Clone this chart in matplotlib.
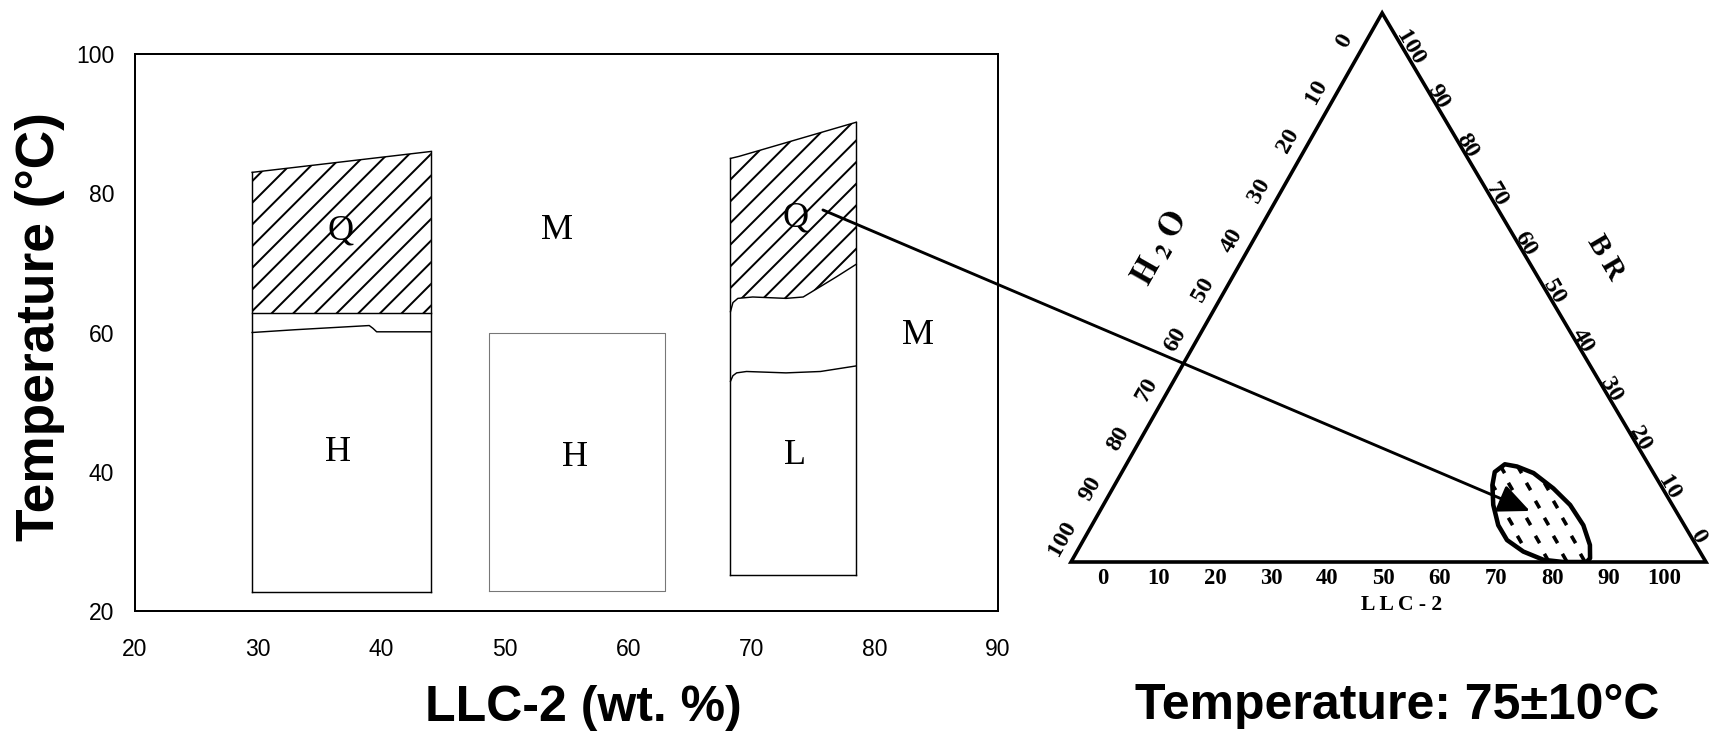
import numpy as np
import matplotlib
matplotlib.use('Agg')
import matplotlib.pyplot as plt
from matplotlib.patches import Polygon, ConnectionPatch
from matplotlib.markers import MarkerStyle
from matplotlib.transforms import Affine2D

DPI = 130
W, H = 1709, 733

# ---------------- data : phase diagram (LLC-2 wt% vs temperature) ----------------
x_ticks = [20, 30, 40, 50, 60, 70, 80, 90]
y_ticks = [20, 40, 60, 80, 100]

# block 1 (~30-44 wt%)
b1_x = [29.5, 44.0]
b1_top = [83.0, 86.0]
b1_bottom = 22.7
b1_q_bottom = 62.8
b1_line_x = [29.5, 33.0, 36.0, 39.0, 39.3, 39.6, 44.0]
b1_line_y = [60.0, 60.4, 60.7, 61.0, 60.6, 60.1, 60.1]

# block 2 (~49-63 wt%)
b2_x = [48.7, 63.0]
b2_y = [22.9, 60.0]

# block 3 (~68-78.5 wt%)
b3_x = [68.3, 78.5]
b3_top_x = [68.3, 69.0, 78.5]
b3_top_y = [85.0, 85.3, 90.2]
b3_q_x = [68.3, 68.5, 68.9, 70.1, 72.8, 74.2, 75.6, 76.9, 78.5]
b3_q_y = [63.0, 64.3, 64.9, 65.1, 64.9, 65.1, 66.6, 68.0, 69.8]
b3_l_x = [68.3, 68.5, 68.8, 69.6, 72.8, 75.6, 78.5]
b3_l_y = [53.0, 53.8, 54.2, 54.4, 54.2, 54.4, 55.2]
b3_bottom = 25.1

phase_labels = ['Q', 'M', 'Q', 'M', 'H', 'H', 'L']
phase_x = [36.7, 54.2, 73.6, 83.5, 36.5, 55.7, 73.5]
phase_y = [74.6, 74.6, 76.4, 59.6, 42.8, 42.0, 42.3]

arrow_start = (75.8, 77.6)          # in phase-diagram data
arrow_end_llc, arrow_end_br = 67.7, 9.3   # ternary composition (%)

# ---------------- data : ternary diagram ----------------
tern_ticks = [0, 10, 20, 30, 40, 50, 60, 70, 80, 90, 100]
blob_llc = [59.6, 61.7, 64.9, 69.4, 73.5, 77.4, 80.2, 81.4, 81.2, 77.5, 74.2, 70.3,
            66.7, 64.0, 61.4, 59.5, 58.7]
blob_br = [17.8, 17.4, 16.2, 13.4, 10.4, 6.7, 3.1, 0.7, 0.0, 0.0, 0.4, 1.9,
           4.0, 6.7, 10.4, 14.0, 16.4]

# ---------------- figure ----------------
plt.rcParams['font.family'] = ['Liberation Sans', 'DejaVu Sans']
plt.rcParams['hatch.linewidth'] = 1.1
plt.rcParams['hatch.color'] = 'black'
plt.rcParams['mathtext.fontset'] = 'stix'

fig = plt.figure(figsize=(W / DPI, H / DPI), dpi=DPI)
fig.patch.set_facecolor('white')

# ---- left: phase diagram ----
ax = fig.add_axes([135 / W, 1 - 611 / H, 863 / W, 557 / H])
ax.set_xlim(20, 90)
ax.set_ylim(20, 100)
ax.set_xticks(x_ticks)
ax.set_yticks(y_ticks)
ax.tick_params(axis='both', length=0, labelsize=12.7)
ax.tick_params(axis='x', pad=15)
ax.tick_params(axis='y', pad=11.5)
for sp in ax.spines.values():
    sp.set_linewidth(1.1)

LW = 0.8
# block 1
x0, x1 = b1_x
ax.fill_between(b1_x, [b1_q_bottom] * 2, b1_top, facecolor='none', edgecolor='black',
                hatch='//', linewidth=0)
ax.plot([x0, x0], [b1_bottom, b1_top[0]], color='black', lw=LW)
ax.plot([x1, x1], [b1_bottom, b1_top[1]], color='black', lw=LW)
ax.plot(b1_x, b1_top, color='black', lw=LW)
ax.plot(b1_x, [b1_bottom] * 2, color='black', lw=LW)
ax.plot(b1_x, [b1_q_bottom] * 2, color='black', lw=LW)
ax.plot(b1_line_x, b1_line_y, color='black', lw=LW)

# block 2
ax.plot([b2_x[0], b2_x[1], b2_x[1], b2_x[0], b2_x[0]],
        [b2_y[0], b2_y[0], b2_y[1], b2_y[1], b2_y[0]], color='#777777', lw=0.6)

# block 3
top_at_q = np.interp(b3_q_x, b3_top_x, b3_top_y)
ax.fill_between(b3_q_x, b3_q_y, top_at_q, facecolor='none', edgecolor='black',
                hatch='//', linewidth=0)
ax.plot([b3_x[0], b3_x[0]], [b3_bottom, b3_top_y[0]], color='black', lw=LW)
ax.plot([b3_x[1], b3_x[1]], [b3_bottom, b3_top_y[-1]], color='black', lw=LW)
ax.plot(b3_top_x, b3_top_y, color='black', lw=LW)
ax.plot(b3_x, [b3_bottom] * 2, color='black', lw=LW)
ax.plot(b3_q_x, b3_q_y, color='black', lw=LW)
ax.plot(b3_l_x, b3_l_y, color='black', lw=LW)

for lab, px, py in zip(phase_labels, phase_x, phase_y):
    ax.text(px, py, lab, family='Liberation Serif', fontsize=20, ha='center', va='center')

ax.set_xlabel('LLC-2 (wt. %)', fontsize=27.7, fontweight='bold')
ax.set_ylabel('Temperature (°C)', fontsize=29.5, fontweight='bold')
ax.xaxis.label.set_va('center')
ax.yaxis.label.set_va('center')
ax.xaxis.set_label_coords((583 - 135) / 863, -(708 - 611) / 557)
ax.yaxis.set_label_coords((40 - 135) / 863, (611 - 327) / 557)

# ---- right: ternary diagram ----
APEX_X = 0.49


def tern(llc, br):
    llc = np.asarray(llc, float) / 100.0
    br = np.asarray(br, float) / 100.0
    return llc + APEX_X * br, br


tax = fig.add_axes([1071 / W, 1 - 562 / H, 635 / W, 549 / H])
tax.set_xlim(0, 1)
tax.set_ylim(0, 1)
tax.axis('off')

vx, vy = tern([0, 100, 0], [0, 0, 100])
tax.add_patch(Polygon(np.column_stack([vx, vy]), closed=True, fill=False, lw=2.0,
                      edgecolor='black', joinstyle='miter', clip_on=False))

Hv = np.array(tern(0, 0))
Lv = np.array(tern(100, 0))
Bv = np.array(tern(0, 100))
centroid = tax.transData.transform((Hv + Lv + Bv) / 3)

serif_bold = dict(family='Liberation Serif', fontweight='bold')


def edge_labels(p0, p1, values, s_func, offset_px, rot, size):
    d0 = tax.transData.transform(p0)
    d1 = tax.transData.transform(p1)
    d = (d1 - d0) / np.hypot(*(d1 - d0))
    n = np.array([-d[1], d[0]])
    mid = (d0 + d1) / 2
    if np.dot(n, mid - centroid) < 0:
        n = -n
    for v in values:
        s = s_func(v)
        p = p0 + s * (p1 - p0)
        tax.annotate(str(v), xy=p, xytext=tuple(n * offset_px), textcoords='offset pixels',
                     ha='center', va='center', rotation=rot, rotation_mode='anchor',
                     fontsize=size, annotation_clip=False, **serif_bold)


dH = tax.transData.transform(Hv)
dB = tax.transData.transform(Bv)
dL = tax.transData.transform(Lv)
rot_left = np.degrees(np.arctan2(dB[1] - dH[1], dB[0] - dH[0]))
rot_right = np.degrees(np.arctan2(dL[1] - dB[1], dL[0] - dB[0]))

edge_labels(Hv, Lv, tern_ticks, lambda v: 0.05 + 0.885 * v / 100, 16, 0, 12.5)
edge_labels(Hv, Bv, tern_ticks, lambda v: 0.026 + 0.905 * (100 - v) / 100, 19, rot_left, 13.5)
edge_labels(Bv, Lv, tern_ticks, lambda v: 0.069 + 0.89 * (100 - v) / 100, 6, rot_right, 13.5)

tax.text(0.140, 0.572, r'$\mathbf{H\ _2\ O}$', fontsize=18, rotation=rot_left,
         ha='center', va='center', rotation_mode='anchor')
tax.text(0.841, 0.554, 'B R', fontsize=16, rotation=rot_right, ha='center', va='center',
         rotation_mode='anchor', **serif_bold)
tax.text(0.521, -0.079, 'L L C - 2', fontsize=12, ha='center', va='center',
         clip_on=False, **serif_bold)

bx, by = tern(blob_llc, blob_br)
blob = Polygon(np.column_stack([bx, by]), closed=True, facecolor='none', edgecolor='black',
               lw=2.5, joinstyle='round', zorder=3)
tax.add_patch(blob)

gx, gy = [], []
for j, yy in enumerate(np.arange(0.01, 0.2, 0.032)):
    for xx in np.arange(0.58 + (j % 2) * 0.014, 0.85, 0.028):
        gx.append(xx)
        gy.append(yy)
dash = MarkerStyle('|', transform=Affine2D().rotate_deg(30))
sc = tax.scatter(gx, gy, marker=dash, s=22, linewidths=2.0, color='black', zorder=2)
sc.set_clip_path(blob)

fig.text(1397 / W, 1 - 706 / H, 'Temperature: 75±10°C', fontsize=27.7, fontweight='bold',
         ha='center', va='center')

# arrow from phase Q to ternary region
con = ConnectionPatch(xyA=arrow_start, coordsA=ax.transData,
                      xyB=tern(arrow_end_llc, arrow_end_br), coordsB=tax.transData,
                      arrowstyle='-|>,head_length=1.0,head_width=0.45', mutation_scale=15,
                      lw=1.6, color='black', shrinkA=0, shrinkB=0, zorder=10)
fig.add_artist(con)

fig.savefig('out.png', dpi=DPI, facecolor='white')
